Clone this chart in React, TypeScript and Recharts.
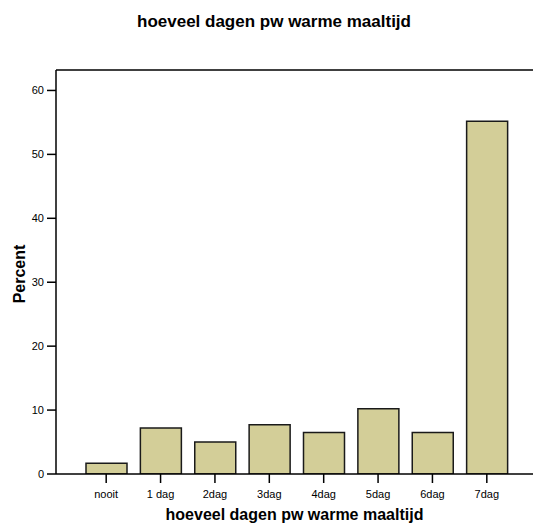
import React from 'react';
import { BarChart, Bar, XAxis, YAxis, ReferenceLine } from 'recharts';

const categories = ['nooit', '1 dag', '2dag', '3dag', '4dag', '5dag', '6dag', '7dag'];
const percents = [1.7, 7.2, 5.0, 7.7, 6.5, 10.2, 6.5, 55.2];
const yTicks = [0, 10, 20, 30, 40, 50, 60];
const yMax = 63.2;
const chartTitle = 'hoeveel dagen pw warme maaltijd';
const xTitle = 'hoeveel dagen pw warme maaltijd';
const yTitle = 'Percent';

const data = categories.map((c, i) => ({ cat: c, pct: percents[i] }));

const FONT = '"Liberation Sans", Arial, Helvetica, sans-serif';

const XLabel = (props: any) => {
  const vb = props.viewBox || {};
  const cx = vb.x + vb.width / 2;
  return (
    <text x={cx} y={vb.y + 46} textAnchor="middle" fontFamily={FONT} fontSize={16} fontWeight="bold" fill="#000">
      {xTitle}
    </text>
  );
};

const YLabel = (props: any) => {
  const vb = props.viewBox || {};
  const cy = vb.y + vb.height / 2 + 2;
  const x = 19;
  return (
    <text
      x={x}
      y={cy}
      transform={`rotate(-90, ${x}, ${cy})`}
      textAnchor="middle"
      dominantBaseline="central"
      fontFamily={FONT}
      fontSize={16}
      fontWeight="bold"
      fill="#000"
    >
      {yTitle}
    </text>
  );
};

export default function App() {
  return (
    <div style={{ position: 'absolute', left: 0, top: 0, width: 534, height: 523, background: '#fff' }}>
      <svg width={534} height={40} style={{ position: 'absolute', left: 0, top: 0 }}>
        <text x={274} y={27} textAnchor="middle" fontFamily={FONT} fontSize={17} fontWeight="bold" fill="#000">
          {chartTitle}
        </text>
      </svg>
      <div style={{ position: 'absolute', left: 0, top: 0 }}>
        <BarChart width={534} height={523} data={data} margin={{ top: 70, right: 1, bottom: 0, left: 0 }}>
          <XAxis
            dataKey="cat"
            interval={0}
            height={49}
            padding={{ left: 23, right: 19 }}
            tickSize={9}
            tickMargin={7}
            tick={{ fontFamily: FONT, fontSize: 11, fill: '#000' }}
            axisLine={{ stroke: '#000', strokeWidth: 1.5 }}
            tickLine={{ stroke: '#000', strokeWidth: 1.5 }}
            label={<XLabel />}
          />
          <YAxis
            width={56}
            domain={[0, yMax]}
            ticks={yTicks}
            allowDataOverflow
            tickSize={9}
            tickMargin={3}
            tick={{ fontFamily: FONT, fontSize: 11, fill: '#000' }}
            axisLine={{ stroke: '#000', strokeWidth: 1.5 }}
            tickLine={{ stroke: '#000', strokeWidth: 1.5 }}
            label={<YLabel />}
          />
          <ReferenceLine y={yMax} stroke="#000" strokeWidth={1.5} ifOverflow="visible" />
          <Bar dataKey="pct" barSize={41} fill="#D3CE98" stroke="#1a1a1a" strokeWidth={1.5} isAnimationActive={false} />
        </BarChart>
      </div>
    </div>
  );
}
